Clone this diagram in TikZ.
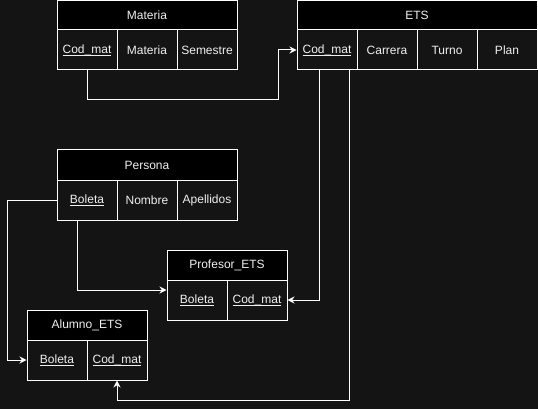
\documentclass[tikz,border=0pt]{standalone}
\usepackage{fontspec}
\setmainfont{Liberation Sans}
\usetikzlibrary{arrows.meta}
\definecolor{bg}{HTML}{141414}
\definecolor{txt}{HTML}{F0F0F0}
\newlength\ulw
\newcommand{\ulx}[1]{\settowidth{\ulw}{#1}\rlap{\rule[-2.6pt]{\ulw}{0.9pt}}#1}
\begin{document}
\begin{tikzpicture}[x=1pt,y=-1pt,
  cell/.style={draw=white, line width=1pt, fill=bg, minimum width=60pt, minimum height=40pt, inner sep=0pt, text=txt, font=\fontsize{12pt}{14pt}\selectfont},
  hdr/.style={cell, fill=black, minimum height=29pt},
  conn/.style={draw=white, line width=1pt, -{Stealth[length=7pt,width=7pt]}}]
\fill[bg] (0,0) rectangle (538,409);
\useasboundingbox (0,0) rectangle (538,409);
% Materia
\node[hdr, minimum width=180pt] (mat) at (147,15.5) {Materia};
\node[cell] (matcod) at (87,50) {\ulx{Cod\_mat}};
\node[cell] (matmat) at (147,50) {Materia};
\node[cell] (matsem) at (207,50) {Semestre};
% ETS
\node[hdr, minimum width=240pt] (ets) at (417,15.5) {ETS};
\node[cell] (etscod) at (327,50) {\ulx{Cod\_mat}};
\node[cell] (etscar) at (387,50) {Carrera};
\node[cell] (etstur) at (447,50) {Turno};
\node[cell] (etspla) at (507,50) {Plan};
% Persona
\node[hdr, minimum width=180pt, minimum height=30pt] (per) at (147,165) {Persona};
\node[cell] (perbol) at (87,200) {\ulx{Boleta}};
\node[cell] (pernom) at (147,200) {Nombre};
\node[cell] (perape) at (207,200) {Apellidos};
% Profesor_ETS
\node[hdr, minimum width=120pt, minimum height=30pt] (prof) at (227,265) {Profesor\_ETS};
\node[cell] (profbol) at (197,300) {\ulx{Boleta}};
\node[cell] (profcod) at (257,300) {\ulx{Cod\_mat}};
% Alumno_ETS
\node[hdr, minimum width=120pt, minimum height=30pt] (alu) at (87,325) {Alumno\_ETS};
\node[cell] (alubol) at (57,360) {\ulx{Boleta}};
\node[cell] (alucod) at (117,360) {\ulx{Cod\_mat}};
% connectors
\draw[conn] (matcod.south) -- (matcod.south |- 0,100) -- (278,100) -- (278,50) -- (etscod.west);
\draw[conn] ([xshift=-8pt]etscod.south) |- (profcod.east);
\draw[conn] ([xshift=22pt]etscod.south) |- (alucod.south |- 0,400) -- (alucod.south);
\draw[conn] (perbol.west) -- (7,200) |- (alubol.west);
\draw[conn] ([xshift=-10pt]perbol.south) |- (profbol.west |- 0,290);
\end{tikzpicture}
\end{document}
